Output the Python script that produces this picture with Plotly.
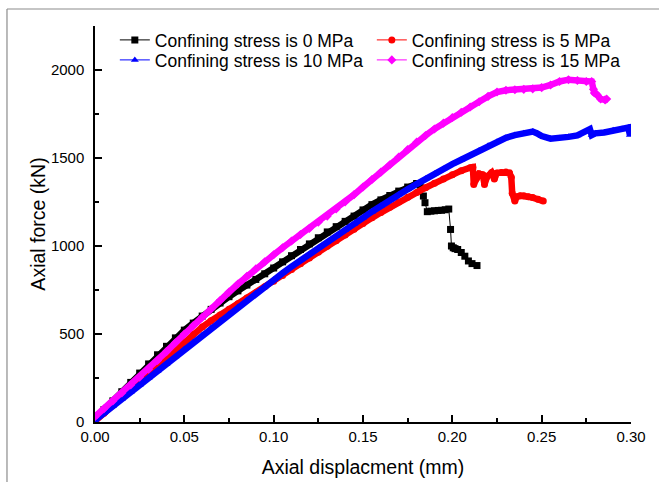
import plotly.graph_objects as go

# ---------------- data ----------------
names = ["Confining stress is 0 MPa", "Confining stress is 5 MPa",
         "Confining stress is 10 MPa", "Confining stress is 15 MPa"]
colors = ["#000000", "#ff0000", "#0000ff", "#ff00ff"]
symbols = ["square", "circle", "triangle-up", "diamond"]
legend_ids = ["legend", "legend", "legend2", "legend2"]

# 0 MPa
d0 = [0, 0.005, 0.01, 0.015, 0.02, 0.025, 0.03, 0.035, 0.04, 0.045, 0.05, 0.055,
      0.06, 0.065, 0.07, 0.075, 0.08, 0.085, 0.09, 0.095, 0.10, 0.105, 0.11, 0.115,
      0.12, 0.125, 0.13, 0.135, 0.14, 0.145, 0.15, 0.155, 0.16, 0.165, 0.17, 0.175,
      0.18, 0.182, 0.1838, 0.1847, 0.186, 0.188, 0.19, 0.192, 0.194, 0.196, 0.198,
      0.199, 0.1995, 0.2005, 0.2015, 0.203, 0.205, 0.207, 0.209, 0.211, 0.2138]
f0 = [20, 70, 120, 172, 225, 278, 330, 382, 430, 478, 522, 562,
      602, 640, 676, 712, 745, 778, 810, 842, 875, 910, 945, 980,
      1012, 1047, 1080, 1110, 1140, 1170, 1205, 1235, 1262, 1287, 1312, 1335,
      1355, 1345, 1284, 1246, 1195, 1198, 1200, 1202, 1203, 1206, 1210,
      1094, 1000, 990, 985, 980, 963, 942, 915, 900, 889]
peak0 = 38  # band drawn up to the peak

# 5 MPa
d5 = [0, 0.005, 0.01, 0.015, 0.02, 0.025, 0.03, 0.035, 0.04, 0.045, 0.05, 0.055,
      0.06, 0.065, 0.07, 0.075, 0.08, 0.085, 0.09, 0.095, 0.10, 0.105, 0.11, 0.115,
      0.12, 0.125, 0.13, 0.135, 0.14, 0.145, 0.15, 0.155, 0.16, 0.165, 0.17, 0.175,
      0.18, 0.185, 0.19, 0.195, 0.20, 0.205, 0.21, 0.2115, 0.212, 0.2135, 0.215,
      0.217, 0.218, 0.2195, 0.222, 0.2235, 0.225, 0.2275, 0.23, 0.232, 0.233,
      0.2335, 0.235, 0.236, 0.238, 0.24, 0.2425, 0.245, 0.248, 0.2509]
f5 = [5, 50, 95, 140, 185, 230, 275, 320, 365, 410, 455, 498,
      540, 575, 608, 640, 672, 704, 735, 768, 800, 833, 866, 899,
      932, 965, 998, 1030, 1062, 1095, 1128, 1160, 1190, 1220, 1250, 1277,
      1304, 1331, 1356, 1381, 1405, 1428, 1445, 1448, 1350, 1385, 1410,
      1405, 1350, 1395, 1417, 1380, 1415, 1418, 1420, 1415, 1390,
      1300, 1255, 1280, 1285, 1285, 1280, 1275, 1265, 1255]

# 10 MPa
d10 = [0, 0.005, 0.01, 0.015, 0.02, 0.025, 0.03, 0.035, 0.04, 0.045, 0.05, 0.055,
       0.06, 0.065, 0.07, 0.075, 0.08, 0.085, 0.09, 0.095, 0.10, 0.105, 0.11, 0.115,
       0.12, 0.125, 0.13, 0.135, 0.14, 0.145, 0.15, 0.155, 0.16, 0.165, 0.17, 0.175,
       0.18, 0.185, 0.19, 0.195, 0.20, 0.205, 0.21, 0.215, 0.22, 0.225, 0.23, 0.235,
       0.24, 0.245, 0.2475, 0.25, 0.255, 0.26, 0.265, 0.27, 0.275, 0.277, 0.278,
       0.28, 0.285, 0.29, 0.295, 0.2985, 0.2994]
f10 = [10, 50, 90, 130, 170, 210, 250, 290, 330, 372, 415, 455,
       495, 535, 575, 614, 654, 692, 731, 769, 808, 846, 883, 919,
       954, 988, 1022, 1056, 1090, 1125, 1160, 1195, 1229, 1261, 1292, 1322,
       1352, 1382, 1410, 1438, 1465, 1490, 1515, 1543, 1570, 1593, 1615, 1630,
       1640, 1650, 1640, 1625, 1610, 1612, 1620, 1628, 1650, 1664, 1630,
       1640, 1645, 1658, 1665, 1673, 1630]

# 15 MPa
d15 = [0, 0.005, 0.01, 0.015, 0.02, 0.025, 0.03, 0.035, 0.04, 0.045, 0.05, 0.055,
       0.06, 0.065, 0.07, 0.075, 0.08, 0.085, 0.09, 0.095, 0.10, 0.105, 0.11, 0.115,
       0.12, 0.125, 0.13, 0.135, 0.14, 0.145, 0.15, 0.155, 0.16, 0.165, 0.17, 0.175,
       0.18, 0.185, 0.19, 0.195, 0.20, 0.205, 0.21, 0.215, 0.22, 0.225, 0.23, 0.235,
       0.24, 0.245, 0.25, 0.255, 0.26, 0.265, 0.27, 0.275, 0.278, 0.279, 0.2795,
       0.281, 0.283, 0.2855, 0.2864]
f15 = [30, 75, 120, 165, 210, 255, 300, 350, 400, 450, 500, 548,
       595, 642, 690, 738, 784, 828, 870, 910, 950, 990, 1028, 1065,
       1100, 1135, 1170, 1210, 1250, 1292, 1335, 1378, 1420, 1462, 1505, 1548,
       1590, 1628, 1665, 1698, 1730, 1760, 1790, 1820, 1850, 1875, 1885, 1888,
       1890, 1893, 1900, 1915, 1935, 1945, 1940, 1935, 1935, 1890, 1870,
       1860, 1835, 1830, 1835]

xticks = [0.00, 0.05, 0.10, 0.15, 0.20, 0.25, 0.30]
xticklabels = ["0.00", "0.05", "0.10", "0.15", "0.20", "0.25", "0.30"]
yticks = [0, 500, 1000, 1500, 2000]
yticklabels = ["0", "500", "1000", "1500", "2000"]

series = [(d0, f0, peak0), (d5, f5, None), (d10, f10, None), (d15, f15, None)]

FONT = "Arial, Liberation Sans, sans-serif"
fig = go.Figure()

for i, (d, f, cut) in enumerate(series):
    dd = d if cut is None else d[:cut]
    ff = f if cut is None else f[:cut]
    # thick band formed by the dense measured points
    fig.add_trace(go.Scatter(x=dd, y=ff, mode="lines", showlegend=False,
                             hoverinfo="skip",
                             line=dict(color=colors[i], width=6.5)))
    fig.add_trace(go.Scatter(x=d, y=f, mode="lines+markers", name=names[i],
                             legend=legend_ids[i],
                             line=dict(color=colors[i], width=1),
                             marker=dict(symbol=symbols[i], size=7,
                                         color=colors[i])))

axis_common = dict(showline=True, linecolor="black", linewidth=1.5,
                   ticks="inside", ticklen=7, tickwidth=1.5, tickcolor="black",
                   showgrid=False, zeroline=False, mirror=False,
                   automargin=False,
                   tickfont=dict(family=FONT, size=15, color="black"))

fig.update_xaxes(range=[0, 0.3], tickvals=xticks, ticktext=xticklabels,
                 minor=dict(ticks="inside", ticklen=4, tickwidth=1.5,
                            tickcolor="black", dtick=0.025, tick0=0),
                 title=dict(text="Axial displacment (mm)", standoff=17,
                            font=dict(family=FONT, size=19.5, color="black")),
                 **axis_common)
fig.update_yaxes(range=[0, 2250], tickvals=yticks, ticktext=yticklabels,
                 minor=dict(ticks="inside", ticklen=4, tickwidth=1.5,
                            tickcolor="black", dtick=250, tick0=0),
                 title=dict(text="Axial force (kN)", standoff=0,
                            font=dict(family=FONT, size=19.5, color="black")),
                 ticklabelstandoff=6,
                 **axis_common)

# outer grey frame of the picture
fig.add_shape(type="line", xref="paper", yref="paper", x0=-0.1642, y0=1.0429,
              x1=1.2, y1=1.0429, line=dict(color="#8c8c8c", width=1.2))
fig.add_shape(type="line", xref="paper", yref="paper", x0=-0.1642, y0=1.0429,
              x1=-0.1642, y1=-0.3, line=dict(color="#8c8c8c", width=1.2))

leg_common = dict(orientation="h", xanchor="left", yanchor="middle",
                  entrywidth=212, entrywidthmode="pixels",
                  bgcolor="rgba(0,0,0,0)", borderwidth=0,
                  font=dict(family=FONT, size=17.5, color="black"),
                  traceorder="normal")

fig.update_layout(
    width=659, height=482,
    margin=dict(l=95, r=28, t=26, b=60, autoexpand=False),
    paper_bgcolor="white", plot_bgcolor="white",
    font=dict(family=FONT, color="black"),
    legend=dict(x=0.037, y=0.9646, **leg_common),
    legend2=dict(x=0.037, y=0.9141, **leg_common),
)

fig.write_html("out.html")
